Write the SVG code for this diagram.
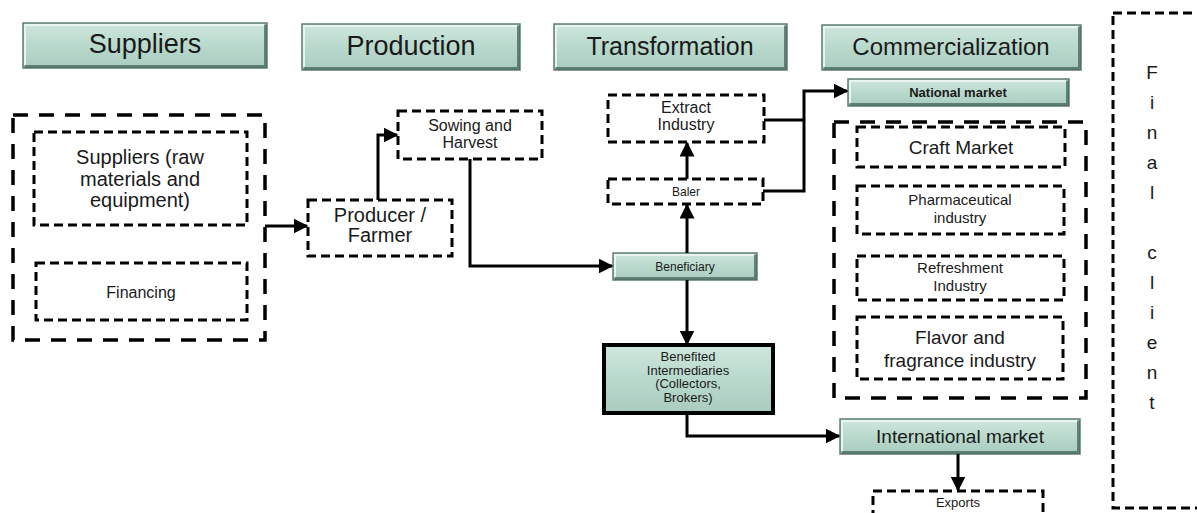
<svg xmlns="http://www.w3.org/2000/svg" width="1197" height="513" viewBox="0 0 1197 513">
<defs>
<linearGradient id="gf" x1="0" y1="0" x2="0" y2="1">
<stop offset="0" stop-color="#cfe6dd"/>
<stop offset="0.5" stop-color="#b9d9cd"/>
<stop offset="1" stop-color="#a9cbbe"/>
</linearGradient>
<marker id="ah" viewBox="0 0 10 10" refX="9" refY="5" markerWidth="5" markerHeight="5" orient="auto" markerUnits="strokeWidth">
<path d="M0,0 L10,5 L0,10 z" fill="#000"/>
</marker>
<style>
.bev{fill:url(#gf);stroke:#5d7d72;stroke-width:1.5}
.dk{fill:none;stroke:#4a6a60;stroke-width:3;opacity:0.8}
.lt{fill:none;stroke:#e8f4ef;stroke-width:2}
.d1{fill:none;stroke:#000;stroke-width:3;stroke-dasharray:9 5}
.d2{fill:none;stroke:#000;stroke-width:3.5;stroke-dasharray:15 11}
.t{font-family:"Liberation Sans",Arial,sans-serif;fill:#1a1a1a;text-anchor:middle}
.c{fill:none;stroke:#000;stroke-width:3;stroke-linejoin:miter}
</style>
</defs>
<rect width="1197" height="513" fill="#fff"/>

<g id="hdr-suppliers">
<rect class="bev" x="23" y="23" width="244" height="45"/>
<path class="lt" d="M25,66 V25 H265"/><path class="dk" d="M24.5,66.5 H265.5 V24.5"/>
<text class="t" x="145" y="53" font-size="27">Suppliers</text>
</g>
<g id="hdr-production">
<rect class="bev" x="302" y="24" width="218" height="46"/>
<path class="lt" d="M304,68 V26 H518"/><path class="dk" d="M303.5,68.5 H518.5 V25.5"/>
<text class="t" x="411" y="55" font-size="27">Production</text>
</g>
<g id="hdr-transformation">
<rect class="bev" x="554" y="24" width="233" height="46"/>
<path class="lt" d="M556,68 V26 H785"/><path class="dk" d="M555.5,68.5 H785.5 V25.5"/>
<text class="t" x="670" y="55" font-size="25">Transformation</text>
</g>
<g id="hdr-commercialization">
<rect class="bev" x="822" y="25" width="259" height="45"/>
<path class="lt" d="M824,68 V27 H1079"/><path class="dk" d="M823.5,68.5 H1079.5 V26.5"/>
<text class="t" x="951" y="55" font-size="24">Commercialization</text>
</g>

<g id="suppliers-group">
<rect class="d2" x="13" y="115" width="252" height="225"/>
</g>
<g id="suppliers-raw">
<rect class="d1" x="34" y="132" width="213" height="93"/>
<text class="t" x="140" y="164" font-size="20">Suppliers (raw</text>
<text class="t" x="140" y="186" font-size="20">materials and</text>
<text class="t" x="140" y="207" font-size="20">equipment)</text>
</g>
<g id="financing">
<rect class="d1" x="36" y="263" width="211" height="57"/>
<text class="t" x="141" y="298" font-size="16">Financing</text>
</g>

<g id="producer">
<rect class="d1" x="308" y="200" width="144" height="56"/>
<text class="t" x="380" y="222" font-size="20">Producer /</text>
<text class="t" x="380" y="242" font-size="20">Farmer</text>
</g>
<g id="sowing">
<rect class="d1" x="398" y="111" width="144" height="48"/>
<text class="t" x="470" y="131" font-size="16">Sowing and</text>
<text class="t" x="470" y="148" font-size="16">Harvest</text>
</g>

<g id="extract">
<rect class="d1" x="608" y="95" width="156" height="47"/>
<text class="t" x="686" y="113" font-size="16">Extract</text>
<text class="t" x="686" y="130" font-size="16">Industry</text>
</g>
<g id="baler">
<rect class="d1" x="608" y="179" width="155" height="25"/>
<text class="t" x="686" y="196" font-size="12">Baler</text>
</g>
<g id="beneficiary">
<rect class="bev" x="613" y="253" width="144" height="27"/>
<path class="lt" d="M615,278 V255 H755"/><path class="dk" d="M614.5,278.5 H755.5 V254.5"/>
<text class="t" x="685" y="271" font-size="12">Beneficiary</text>
</g>
<g id="benefited">
<rect x="604" y="345" width="169" height="68" fill="url(#gf)" stroke="#000" stroke-width="4"/>
<text class="t" x="688" y="361" font-size="13">Benefited</text>
<text class="t" x="688" y="374.5" font-size="13">Intermediaries</text>
<text class="t" x="688" y="388" font-size="13">(Collectors,</text>
<text class="t" x="688" y="401.5" font-size="13">Brokers)</text>
</g>

<g id="national-market">
<rect class="bev" x="848" y="79" width="221" height="27"/>
<path class="lt" d="M850,104 V81 H1067"/><path class="dk" d="M849.5,104.5 H1067.5 V80.5"/>
<text class="t" x="958" y="97" font-size="13" font-weight="bold">National market</text>
</g>
<g id="national-group">
<rect class="d2" x="834" y="122" width="252" height="276"/>
</g>
<g id="craft">
<rect class="d1" x="857" y="127" width="208" height="40"/>
<text class="t" x="961" y="154" font-size="19">Craft Market</text>
</g>
<g id="pharma">
<rect class="d1" x="857" y="186" width="207" height="48"/>
<text class="t" x="960" y="205" font-size="15">Pharmaceutical</text>
<text class="t" x="960" y="223" font-size="15">industry</text>
</g>
<g id="refreshment">
<rect class="d1" x="857" y="256" width="207" height="44"/>
<text class="t" x="960" y="273" font-size="15">Refreshment</text>
<text class="t" x="960" y="291" font-size="15">Industry</text>
</g>
<g id="flavor">
<rect class="d1" x="857" y="317" width="206" height="62"/>
<text class="t" x="960" y="344" font-size="19">Flavor and</text>
<text class="t" x="960" y="367" font-size="19">fragrance industry</text>
</g>

<g id="international-market">
<rect class="bev" x="840" y="419" width="240" height="35"/>
<path class="lt" d="M842,452 V421 H1078"/><path class="dk" d="M841.5,452.5 H1078.5 V420.5"/>
<text class="t" x="960" y="443" font-size="19">International market</text>
</g>
<g id="exports">
<rect class="d1" x="873" y="491" width="170" height="40"/>
<text class="t" x="958" y="507" font-size="13">Exports</text>
</g>

<g id="final-client">
<rect class="d1" x="1113" y="13" width="120" height="495"/>
<g class="t" font-size="19">
<text x="1152" y="79">F</text>
<text x="1152" y="109">i</text>
<text x="1152" y="139">n</text>
<text x="1152" y="169">a</text>
<text x="1152" y="199">l</text>
<text x="1152" y="259">c</text>
<text x="1152" y="289">l</text>
<text x="1152" y="319">i</text>
<text x="1152" y="349">e</text>
<text x="1152" y="379">n</text>
<text x="1152" y="409">t</text>
</g>
</g>

<g id="connectors">
<path class="c" d="M265,226 H307" marker-end="url(#ah)"/>
<path class="c" d="M378,200 V135 H397" marker-end="url(#ah)"/>
<path class="c" d="M470,159 V266 H612" marker-end="url(#ah)"/>
<path class="c" d="M687,253 V205" marker-end="url(#ah)"/>
<path class="c" d="M687,179 V143" marker-end="url(#ah)"/>
<path class="c" d="M764,120 H804"/>
<path class="c" d="M763,191 H804 V91 H847" marker-end="url(#ah)"/>
<path class="c" d="M687,280 V344" marker-end="url(#ah)"/>
<path class="c" d="M687,413 V436 H839" marker-end="url(#ah)"/>
<path class="c" d="M958,454 V490" marker-end="url(#ah)"/>
</g>
</svg>
